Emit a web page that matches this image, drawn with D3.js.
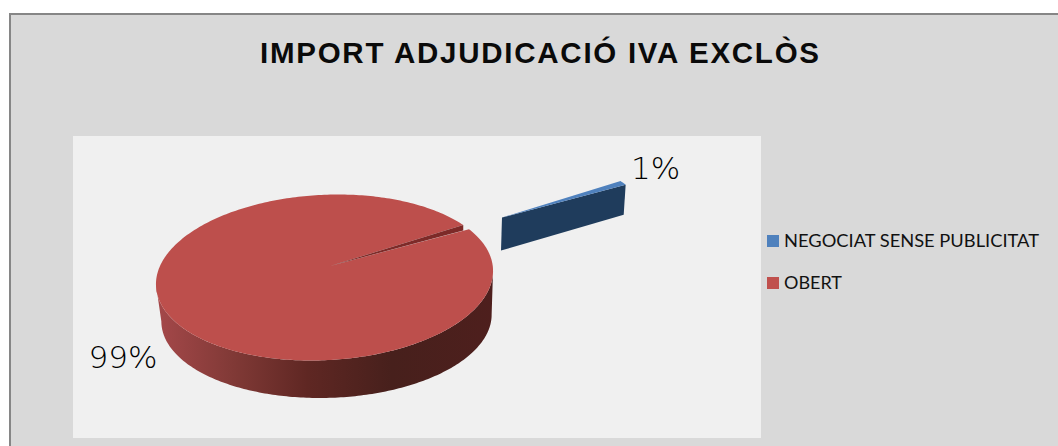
<!DOCTYPE html>
<html><head><meta charset="utf-8">
<script src="https://cdn.jsdelivr.net/npm/d3@7"></script>
<style>html,body{margin:0;padding:0;background:#fff}svg{display:block}</style>
</head><body><svg id="c" width="1058" height="446"></svg>
<script>
const titleText = "IMPORT ADJUDICACIÓ IVA EXCLÒS";
const categories = ["NEGOCIAT SENSE PUBLICITAT", "OBERT"];
const shares = [1, 99];
const shareLabels = ["1%", "99%"];
const colors = ["#4f81bd", "#c0504d"];

const svg = d3.select("#c");
const defs = svg.append("defs");
svg.append("rect").attr("x",10).attr("y",14).attr("width",1060).attr("height",440)
  .attr("fill","#d9d9d9").attr("stroke","#868686").attr("stroke-width",2);
svg.append("rect").attr("x",73).attr("y",136).attr("width",688).attr("height",302).attr("fill","#f0f0f0");

svg.append("text").attr("x",539.5).attr("y",63).attr("text-anchor","middle")
  .attr("font-family","'Liberation Sans'").attr("font-weight","bold").attr("font-size",29.5)
  .attr("textLength",559).attr("lengthAdjust","spacing").attr("fill","#0a0a0a").text(titleText);

const rot = 50.8*Math.PI/180;
const slices = d3.pie().sort(null).startAngle(rot).endAngle(rot+2*Math.PI)(shares);
const face = {cx:324.5, cy:277.5, rx:168, ry:83, s:13.5, ax:330, ay:266};
const base = {cx:326.5, cy:318, rx:165, ry:80, s:7};
const rim = (e,a)=>[e.cx+e.rx*Math.sin(a)+e.s*Math.cos(a), e.cy-e.ry*Math.cos(a)];
const line = d3.line();
const sweep = (e,a0,a1,n=180)=>d3.range(n+1).map(i=>rim(e,a0+(a1-a0)*i/n));

const wallGrad = defs.append("linearGradient").attr("id","wall")
  .attr("gradientUnits","userSpaceOnUse").attr("x1",156).attr("x2",493).attr("y1",0).attr("y2",0);
[[0,"#a5484a"],[0.22,"#823a37"],[0.45,"#5f2723"],[0.7,"#47201c"],[1,"#4e1f1d"]].forEach(([o,c])=>
  wallGrad.append("stop").attr("offset",o).attr("stop-color",c));

// red slice: side wall, inner wall, top
const red = slices[1];
const ext = e => Math.atan2(e.rx,e.s);
const wallPts = sweep(face,ext(face),ext(face)+Math.PI).concat(sweep(base,ext(base)+Math.PI,ext(base)));
svg.append("path").attr("d",line(wallPts)+"Z").attr("fill","url(#wall)");
const facePts = [[face.ax,face.ay]].concat(sweep(face,red.startAngle,red.endAngle,360));
svg.append("path").attr("d",line(facePts)+"Z").attr("fill","#bd4f4c");
const e0 = rim(face,red.endAngle);
svg.append("path").attr("d",line([[face.ax,face.ay],e0,[e0[0],e0[1]+5.5]])+"Z").attr("fill","#7d2a28");

// exploded blue slice
const blue = slices[0];
const sc = 0.89, dx = 172, dy = -48.5, h = 33;
const bx = face.ax+dx, by = face.ay+dy;
const bp = a => { const r = rim(face,a); return [bx+(r[0]-face.ax)*sc, by+(r[1]-face.ay)*sc]; };
const p1 = bp(blue.endAngle);
const apex = [bx,by];
const lower = [[apex[0]-1,apex[1]+h],[p1[0]-2,p1[1]+h-3]];
svg.append("path").attr("d",line([apex,p1,lower[1],lower[0]])+"Z").attr("fill","#1f3c5c");
svg.append("path").attr("d",line([apex].concat(d3.range(7).map(i=>bp(blue.startAngle+(blue.endAngle-blue.startAngle)*i/6))))+"Z").attr("fill",colors[0]);

// data labels
const labelPos = [[655.5,179],[123,368]];
svg.selectAll("text.l").data(shareLabels).join("text").attr("class","l")
  .attr("x",(d,i)=>labelPos[i][0]).attr("y",(d,i)=>labelPos[i][1]).attr("text-anchor","middle")
  .attr("font-family","'DejaVu Sans'").attr("font-weight",200).attr("font-size",31).attr("fill","#000").text(d=>d);

// legend
const ly = d3.scalePoint().domain(categories).range([241,283]);
svg.selectAll("rect.k").data(categories).join("rect").attr("class","k")
  .attr("x",767).attr("y",d=>ly(d)-6).attr("width",12).attr("height",12).attr("fill",(d,i)=>colors[i]);
svg.selectAll("text.k").data(categories).join("text").attr("class","k")
  .attr("x",784).attr("y",d=>ly(d)+6).attr("font-family","Lato").attr("font-size",17)
  .attr("textLength",(d,i)=>i?58:255).attr("lengthAdjust","spacingAndGlyphs").attr("fill","#111").text(d=>d);
</script></body></html>
